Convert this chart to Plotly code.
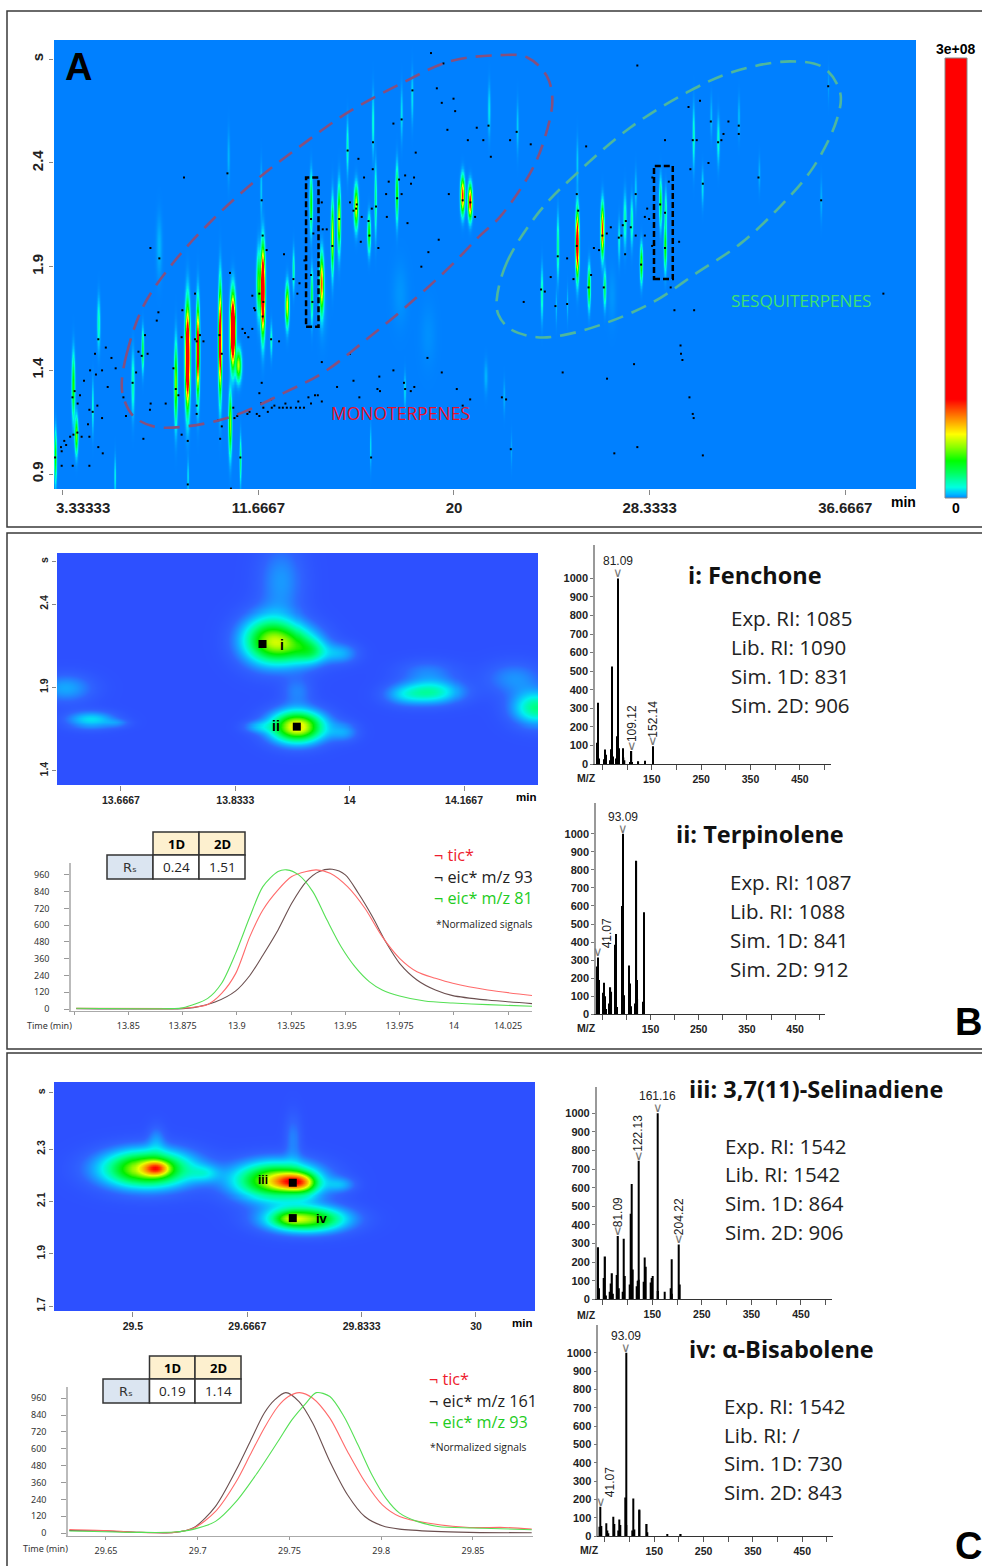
import numpy as np
import plotly.graph_objects as go

W, H = 982, 1566

# ---------- Panel A : peaks of the 2D chromatogram (time min, 2nd dim s, height as fraction of 3e8, widths)
a_t = [8.64,9.08,10.03,10.57,10.81,10.46,11.85,11.67,8.14,12.89,13.91,13.94,14.36,14.82,15.10,15.83,16.38,16.66,17.57,20.37,20.69,3.77,3.90,3.01,4.85,4.60,6.31,6.73,10.90,5.55,8.66,13.16,12.21,15.46,16.55,17.77,18.22,21.46,16.45,17.91,7.43,10.39,11.78,
       25.22,26.29,25.72,26.39,24.39,23.71,27.95,28.77,28.97,28.99,27.25,27.54,27.00,27.71,25.22,30.18,31.23,30.56,30.93,32.11,22.67,32.98,35.62,35.93,22.10,21.32,22.41,24.80,24.32,
       17.7,18.9,14.4,26.7]
a_s = [1.466,1.498,1.546,1.595,1.426,1.144,1.788,1.820,1.337,1.715,2.206,1.763,1.820,2.045,2.133,2.190,2.061,2.222,2.254,2.246,2.214,1.321,1.088,0.984,1.627,1.225,1.337,1.498,0.968,0.887,0.887,1.884,1.546,2.479,2.592,2.640,2.720,2.656,1.032,1.305,1.997,2.431,2.270,
       2.013,2.077,1.804,1.796,1.997,1.772,1.916,2.206,1.997,2.174,2.125,2.117,2.029,2.270,2.399,2.527,2.511,2.286,2.624,2.624,2.576,2.350,2.222,2.777,1.273,1.370,1.016,1.723,1.707,
       1.77,1.57,1.70,1.76]
a_h = [0.45,0.30,0.33,0.50,0.13,0.12,0.45,0.10,0.12,0.15,0.09,0.07,0.20,0.14,0.14,0.15,0.09,0.05,0.09,0.22,0.24,0.09,0.11,0.09,0.035,0.03,0.04,0.07,0.05,0.025,0.02,0.04,0.03,0.035,0.03,0.02,0.02,0.02,0.02,0.02,0.01,0.01,0.015,
       0.35,0.22,0.10,0.06,0.05,0.04,0.10,0.08,0.09,0.04,0.04,0.04,0.025,0.015,0.015,0.035,0.03,0.02,0.012,0.012,0.015,0.01,0.01,0.006,0.01,0.01,0.008,0.012,0.012,
       0.004,0.003,0.006,0.004]
a_wt = [.078,.057,.057,.085,.10,.057,.071,.071,.057,.064,.05,.043,.071,.05,.057,.071,.057,.043,.05,.071,.071,.057,.057,.043,.057,.035,.057,.043,.035,.035,.035,.043,.043,.043,.043,.043,.043,.05,.03,.04,.11,.05,.04,
        .057,.057,.05,.05,.043,.043,.05,.05,.05,.043,.057,.05,.043,.043,.043,.043,.05,.043,.043,.043,.043,.04,.04,.03,.04,.07,.03,.03,.03,
        .30,.30,.16,.16]
a_ws = [.135,.125,.145,.095,.045,.090,.115,.090,.115,.060,.080,.075,.080,.100,.090,.060,.054,.100,.080,.052,.048,.095,.054,.075,.075,.075,.090,.060,.068,.060,.050,.060,.048,.075,.090,.075,.075,.075,.060,.050,.096,.080,.080,
        .088,.072,.060,.054,.088,.075,.054,.068,.068,.060,.075,.068,.060,.060,.075,.088,.068,.054,.060,.060,.075,.050,.060,.050,.050,.050,.050,.050,.050,
        .10,.10,.10,.09]

dots_t = [3.01,3.29,3.26,3.40,3.29,3.48,3.65,3.76,3.79,3.75,3.84,3.97,4.07,4.24,3.96,4.14,4.41,4.47,4.50,4.47,4.47,4.61,4.71,4.75,4.81,4.85,5.01,4.85,5.04,5.01,5.25,5.17,5.41,5.59,5.92,6.03,6.31,6.46,6.56,6.70,6.84,6.95,6.77,7.07,7.45,7.41,7.34,7.08,7.05,7.72,8.05,8.15,8.26,8.40,8.40,8.43,8.50,8.66,8.66,8.97,9.04,8.97,9.04,9.04,9.18,9.33,10.01,10.11,10.04,10.11,9.97,10.35,10.46,10.50,10.60,10.65,10.77,10.83,10.90,10.99,11.10,11.24,11.41,11.41,11.49,11.53,11.71,11.20,11.29,11.60,11.71,11.71,11.81,11.81,11.85,11.88,11.85,11.78,11.88,12.02,12.07,12.21,12.21,12.24,12.35,12.55,12.56,12.76,12.71,12.82,12.88,13.05,13.27,13.33,13.16,13.42,13.37,13.44,13.63,13.61,13.80,13.91,13.91,13.91,13.97,14.01,14.08,14.20,14.37,14.37,14.37,14.41,14.58,14.82,15.02,15.11,15.47,15.57,15.57,15.72,15.72,15.83,15.86,15.93,15.97,16.03,16.07,16.17,16.36,16.40,16.47,16.50,16.54,16.55,16.68,16.74,16.78,16.82,16.85,17.11,17.14,17.22,17.42,17.42,17.58,17.66,17.77,17.77,17.87,17.92,17.92,18.02,18.17,18.16,18.23,18.30,18.31,18.37,18.61,18.87,18.91,19.02,19.27,19.35,19.48,19.48,19.55,19.72,19.78,19.98,20.05,20.12,20.37,20.37,20.59,20.69,20.70,20.90,20.97,21.25,21.47,21.57,
          27.81,22.67,22.39,23.27,25.63,25.23,25.29,26.32,26.51,26.68,27.02,27.13,27.19,27.32,27.53,27.74,27.74,28.13,28.13,28.23,28.31,28.44,28.45,28.78,28.99,28.99,29.15,28.99,29.59,30.07,29.99,30.48,30.17,30.34,30.60,30.84,30.94,31.25,31.39,31.48,31.69,32.13,32.13,32.97,35.94,35.64,38.29,24.42,24.82,25.23,25.96,26.18,27.29,27.97,24.12,25.09,25.84,25.73,26.38,23.71,23.87,22.97,24.32,24.82,29.23,29.39,30.23,29.65,29.67,29.73,27.67,24.63,26.52,22.04,22.22,30.03,30.17,30.21,22.42,27.81,26.83,30.60]
dots_s = [.98,1.01,1.03,1.06,.94,1.04,1.08,.94,1.09,1.27,1.30,1.24,1.28,1.35,1.10,1.08,1.14,1.21,1.40,1.08,.94,1.20,1.48,1.38,1.23,1.55,1.17,1.03,1.00,1.40,1.32,1.51,1.46,1.41,1.27,1.18,1.34,1.39,1.49,1.47,1.57,1.48,1.07,1.99,1.94,1.68,1.64,1.24,1.21,1.24,1.41,1.31,1.28,1.09,1.56,1.69,2.33,1.06,.85,1.55,1.54,1.77,1.23,1.19,1.57,1.54,1.57,1.48,1.07,1.13,1.16,2.35,1.87,.83,1.22,1.17,1.18,1.19,.98,1.60,1.58,1.56,1.60,1.76,1.70,1.69,1.77,1.19,1.20,1.19,1.18,1.29,1.34,2.22,2.05,1.73,1.66,1.24,1.22,1.98,1.20,1.55,1.26,1.22,1.23,1.54,1.22,1.96,1.22,1.24,1.22,1.22,1.22,1.77,1.84,1.82,1.25,1.22,1.93,1.22,1.27,1.24,2.13,1.86,1.73,2.06,1.28,1.28,2.21,1.25,1.44,2.08,2.08,2.00,1.32,2.13,2.46,2.21,1.48,1.35,2.17,2.18,2.20,2.42,1.27,2.02,2.14,2.33,2.12,2.05,.98,2.18,2.37,2.50,2.19,1.31,1.99,1.37,1.30,2.25,2.14,2.31,2.59,1.40,2.23,2.32,2.61,2.25,1.34,1.31,2.34,2.11,2.30,1.30,2.75,2.33,1.32,2.45,1.90,1.46,1.97,2.93,2.76,2.03,2.69,1.39,2.88,2.56,2.25,2.71,2.65,1.31,2.22,1.23,2.51,1.26,2.21,2.14,2.57,2.51,2.58,2.43,
          2.87,2.55,2.51,2.49,2.48,2.25,2.17,2.05,2.06,2.09,2.04,2.05,2.10,2.12,2.09,2.25,2.05,2.14,2.05,2.18,2.13,2.00,2.33,2.20,2.16,2.51,2.31,1.99,2.02,2.37,2.67,2.70,2.51,2.51,2.30,2.40,2.60,2.50,2.51,2.54,2.60,2.58,2.54,2.33,2.77,2.22,1.77,1.95,1.94,2.00,1.99,1.98,1.96,1.91,1.85,1.84,1.86,1.80,1.80,1.79,1.78,1.73,1.71,1.72,1.80,1.69,1.69,1.52,1.48,1.45,1.43,1.39,1.36,1.27,1.26,1.27,1.19,1.17,1.02,1.03,1.00,.99]

mono_t = [5.85,6.06,6.77,8.05,9.75,11.60,13.44,15.43,17.70,19.83,21.96,23.10,23.95,24.19,23.81,23.24,21.96,21.11,19.83,17.99,16.28,14.44,12.73,10.60,8.62,7.20,6.34,5.92,5.85]
mono_s = [1.34,1.48,1.71,1.92,2.13,2.32,2.48,2.64,2.78,2.89,2.92,2.91,2.82,2.70,2.50,2.35,2.14,2.05,1.90,1.71,1.55,1.39,1.29,1.18,1.13,1.13,1.18,1.27,1.34]
sesq_t = [21.82,22.25,23.67,25.23,27.50,29.92,31.90,34.32,35.74,36.45,36.31,35.31,33.89,32.19,30.34,28.50,26.51,24.66,23.53,22.39,21.89,21.82]
sesq_s = [1.74,1.92,2.17,2.35,2.57,2.74,2.84,2.89,2.86,2.74,2.61,2.38,2.19,2.01,1.87,1.73,1.63,1.57,1.56,1.60,1.67,1.74]

# ---------- Panel B / C : blobs
b_t = [13.880,13.920,13.945,13.900,13.986,13.923,13.865,13.991,13.923,13.586,13.623,13.662,14.120,14.078,14.113,14.272,14.239]
b_s = [2.185,2.155,2.115,2.536,2.106,1.666,1.666,1.636,1.876,1.896,1.706,1.686,1.872,1.856,1.996,1.776,1.956]
b_h = [.50,.34,.18,.13,.15,.72,.12,.13,.10,.15,.22,.08,.30,.13,.10,.35,.12]
b_wt = [.028,.028,.015,.023,.018,.027,.015,.015,.015,.028,.025,.013,.030,.022,.030,.025,.030]
b_ws = [.100,.085,.050,.160,.044,.065,.024,.040,.060,.060,.035,.016,.050,.045,.050,.070,.070]
c_t = [29.520,29.533,29.604,29.533,29.708,29.733,29.750,29.802,29.733,29.752,29.726]
c_s = [2.225,2.227,2.208,2.342,2.180,2.176,2.164,2.164,2.342,2.034,2.036]
c_h = [.68,.35,.13,.10,.66,.40,.20,.13,.10,.60,.15]
c_wt = [.045,.012,.015,.009,.042,.018,.014,.015,.008,.040,.015]
c_ws = [.050,.018,.023,.038,.050,.022,.030,.020,.064,.034,.020]
b_mark_t, b_mark_s = [13.873,13.923], [2.16,1.664]
c_mark_t, c_mark_s = [29.733,29.733], [2.171,2.036]

# ---------- elution profiles
bg_t = [13.826,13.870,13.875,13.8866,13.893,13.8995,13.906,13.912,13.919,13.923,13.9285,13.935,13.9415,13.948,13.9544,13.961,13.967,13.975,13.9866,13.9995,14.0156,14.0366]
bg_v = [5,3,8,76,184,400,660,876,984,996,960,840,638,447,303,196,136,93,57,43,31,19]
br_t = [13.826,13.870,13.875,13.880,13.8866,13.893,13.8995,13.906,13.912,13.919,13.9253,13.932,13.9366,13.943,13.951,13.959,13.967,13.975,13.983,13.9915,13.9995,14.0156,14.0366]
br_v = [5,3,5,12,33,112,255,518,709,853,948,984,996,972,876,721,518,363,267,220,184,136,96]
bk_t = [13.826,13.875,13.880,13.890,13.8995,13.906,13.912,13.919,13.9253,13.932,13.938,13.944,13.950,13.956,13.9625,13.969,13.975,13.983,13.9915,13.9995,14.0156,14.0366]
bk_v = [3,3,10,50,130,240,385,566,757,912,984,1000,960,828,660,470,327,208,136,96,64,38]
cg_t = [29.630,29.668,29.687,29.698,29.7097,29.721,29.7324,29.7437,29.7513,29.7589,29.7646,29.772,29.7797,29.7873,29.7949,29.8025,29.810,29.8195,29.8309,29.850,29.882]
cg_v = [15,5,7,28,83,225,427,652,806,924,1000,972,830,628,415,249,142,83,47,36,24]
cr_t = [29.630,29.650,29.668,29.687,29.698,29.7097,29.721,29.7286,29.7362,29.7437,29.7494,29.7555,29.7627,29.772,29.7816,29.791,29.8006,29.810,29.8252,29.848,29.867,29.882]
cr_v = [25,18,5,5,36,154,367,557,747,901,972,1000,960,818,581,367,201,118,71,40,40,28]
ck_t = [29.630,29.650,29.668,29.687,29.698,29.7097,29.721,29.7286,29.7362,29.7419,29.748,29.7552,29.7627,29.772,29.7816,29.791,29.8006,29.810,29.829,29.848,29.882]
ck_v = [18,15,5,4,40,190,450,652,853,948,1000,936,782,510,273,118,52,28,12,5,2]

# ---------- mass spectra
s1_mz = [39,41,43,53,55,57,65,67,69,71,77,79,81,83,84,91,93,95,107,109,110,123,137,152]
s1_i  = [115,330,30,25,78,50,20,80,525,40,30,150,1000,85,40,85,35,20,10,70,10,15,18,95]
s2_mz = [39,41,43,51,53,55,57,65,67,69,77,79,81,91,92,93,95,105,107,109,119,121,122,123,134,136,137]
s2_i  = [265,315,190,120,175,100,30,60,150,125,385,445,40,30,600,1000,105,270,170,45,60,850,190,85,70,565,90]
s3_mz = [39,41,43,53,55,57,65,67,69,71,79,81,83,91,93,95,105,107,109,110,119,121,122,123,133,135,136,147,149,150,161,162,175,187,189,190,204,205]
s3_i  = [85,280,60,115,230,20,40,85,140,30,130,340,60,40,325,125,80,460,620,160,70,100,745,105,95,225,175,90,115,125,1000,45,40,60,215,30,295,80]
s4_mz = [39,41,43,53,55,57,67,69,77,79,81,91,93,94,105,107,109,119,120,135,136,177,204]
s4_i  = [50,160,55,70,30,15,105,65,30,90,60,210,1000,60,30,205,35,145,140,65,20,8,8]

rs_b = ["0.24", "1.51"]
rs_c = ["0.19", "1.14"]
cbar_vals = [0, 3e6, 6e6, 1.2e7, 1.8e7, 2.5e7, 3.5e7, 4.4e7, 5.5e7, 6.8e7, 1e8, 2e8, 3e8]

BG_A = "#0080ff"
BG_B = "#2d50ff"
scale_a = [[0,BG_A],[.012,"#00c0ff"],[.025,"#00ffe0"],[.05,"#00ff80"],[.085,"#00ff00"],[.145,"#ffff00"],[.225,"#ff0000"],[1,"#ff0000"]]
scale_b = [[0,BG_B],[.06,"#2f62ff"],[.16,"#10b0ff"],[.24,"#00f0f0"],[.34,"#00ff90"],[.5,"#00ee00"],[.68,"#e8ff00"],[.85,"#ff8000"],[1,"#ff0000"]]


def xd(l, r):
    return [l / W, r / W]


def yd(t, b):
    return [1 - b / H, 1 - t / H]


def field(xr, yr, nx, ny, t, s, h, wt, ws):
    x = np.linspace(xr[0], xr[1], nx)
    y = np.linspace(yr[0], yr[1], ny)
    X, Y = np.meshgrid(x, y)
    Z = np.zeros_like(X)
    for a, b, c, d, e in zip(t, s, h, wt, ws):
        Z += c * np.exp(-((X - a) / d) ** 2 / 2 - ((Y - b) / e) ** 2 / 2)
    return x, y, Z


fig = go.Figure()
annots, shapes = [], []


def text(px, py, s, size=12, color="black", fam="Liberation Sans", bold=False, xa="left", ya="middle", angle=0):
    annots.append(dict(x=px / W, y=1 - py / H, xref="paper", yref="paper", text=("<b>%s</b>" % s) if bold else s,
                       showarrow=False, xanchor=xa, yanchor=ya, textangle=angle,
                       font=dict(size=size, color=color, family=fam), borderpad=0, align="left"))


def rect(l, t, r, b, line="#3a3a3a", lw=1.5, fill=None):
    shapes.append(dict(type="rect", xref="paper", yref="paper", x0=l / W, x1=r / W, y0=1 - t / H, y1=1 - b / H,
                       line=dict(color=line, width=lw), fillcolor=fill, layer="above"))


layout = dict(width=W, height=H, margin=dict(l=0, r=0, t=0, b=0, autoexpand=False), paper_bgcolor="white", plot_bgcolor="white",
              showlegend=False)
TICK = dict(family="Liberation Sans", color="#222")


def heat_axes(n, dx, dy, xr, yr, xv, xt, yv, yt, size):
    layout["xaxis%d" % n] = dict(domain=dx, range=xr, anchor="y%d" % n, tickvals=xv, ticktext=xt, ticks="outside", ticklen=5,
                                 tickcolor="#888", showgrid=False, zeroline=False, showline=False,
                                 tickfont=dict(size=size, weight="bold", **TICK))
    layout["yaxis%d" % n] = dict(domain=dy, range=yr, anchor="x%d" % n, tickvals=yv, ticktext=yt, ticks="outside", ticklen=4,
                                 tickcolor="#888", tickangle=-90, showgrid=False, zeroline=False, showline=False,
                                 tickfont=dict(size=size, weight="bold", **TICK))


# ---- Panel A
rA = ([2.963, 39.68], [0.828, 2.993])
x, y, Z = field(rA[0], rA[1], 862, 300, a_t, a_s, a_h, [w * 0.75 for w in a_wt], a_ws)
fig.add_trace(go.Heatmap(x=x, y=y, z=Z * 3e8, zmin=0, zmax=3e8, colorscale=scale_a, zsmooth="best", showscale=False, xaxis="x1", yaxis="y1"))
heat_axes(1, xd(54, 916), yd(40, 489), rA[0], rA[1], [11.6667, 20, 28.3333, 36.6667],
          ["11.6667", "20", "28.3333", "36.6667"], [0.9, 1.4, 1.9, 2.4, 2.9], ["0.9", "1.4", "1.9", "2.4", "s"], 15)
layout["xaxis1"]["minor"] = dict(tickmode="array", tickvals=[3.33333], ticks="outside", ticklen=5, tickcolor="#888", showgrid=False)
text(83, 508, "3.33333", 15, "#222", bold=True, xa="center")
fig.add_trace(go.Scatter(x=dots_t, y=dots_s, mode="markers", marker=dict(size=2, color="black", symbol="square"), xaxis="x1", yaxis="y1"))
fig.add_trace(go.Scatter(x=mono_t, y=mono_s, mode="lines", line=dict(color="#85507f", width=2.6, dash="16px,9px", shape="spline"), xaxis="x1", yaxis="y1"))
fig.add_trace(go.Scatter(x=sesq_t, y=sesq_s, mode="lines", line=dict(color="#4fb79c", width=2.6, dash="16px,9px", shape="spline"), xaxis="x1", yaxis="y1"))
for x0, x1, y0, y1 in [(13.70, 14.23, 1.61, 2.33), (28.52, 29.32, 1.84, 2.386)]:
    shapes.append(dict(type="rect", xref="x1", yref="y1", x0=x0, x1=x1, y0=y0, y1=y1, line=dict(color="black", width=2.5, dash="6px,3px")))
text(64, 67, "A", 38, bold=True)
text(330, 413, "MONOTERPENES", 17.5, "#e8102a", "Open Sans")
text(730, 300, "SESQUITERPENES", 17.2, "#3fe070", "Open Sans")
text(956, 49, "3e+08", 14, bold=True, xa="center")
text(956, 508, "0", 14, bold=True, xa="center")
text(903, 502, "min", 14, bold=True, xa="center")

# colour bar as its own small axis
fig.add_trace(go.Heatmap(x=[0, 1], y=cbar_vals, z=[[v, v] for v in cbar_vals], zmin=0, zmax=3e8, colorscale=scale_a, zsmooth="best",
                         showscale=False, xaxis="x10", yaxis="y10"))
layout["xaxis10"] = dict(domain=xd(945, 967), range=[0, 1], anchor="y10", visible=False)
layout["yaxis10"] = dict(domain=yd(58, 498), range=[0, 3e8], anchor="x10", visible=False)
rect(945, 58, 967, 498, line="#888", lw=1)

# ---- Panel B heat
rB = ([13.5735, 14.2745], [1.314, 2.706])
x, y, Z = field(rB[0], rB[1], 240, 116, b_t, b_s, b_h, b_wt, b_ws)
fig.add_trace(go.Heatmap(x=x, y=y, z=Z, zmin=0, zmax=1, colorscale=scale_b, zsmooth="best", showscale=False, xaxis="x2", yaxis="y2"))
heat_axes(2, xd(57, 538), yd(553, 785), rB[0], rB[1], [13.6667, 13.8333, 14, 14.1667], ["13.6667", "13.8333", "14", "14.1667"],
          [1.4, 1.9, 2.4, 2.654], ["1.4", "1.9", "2.4", "s"], 10.5)
fig.add_trace(go.Scatter(x=b_mark_t, y=b_mark_s, mode="markers", marker=dict(size=8, color="black", symbol="square"), xaxis="x2", yaxis="y2"))
text(282, 645, "i", 14, bold=True, xa="center")
text(276, 726, "ii", 14, bold=True, xa="center")
text(526, 797, "min", 11.5, bold=True, xa="center")

# ---- Panel C heat
rC = ([29.385, 30.086], [1.681, 2.556])
x, y, Z = field(rC[0], rC[1], 240, 114, c_t, c_s, c_h, c_wt, c_ws)
fig.add_trace(go.Heatmap(x=x, y=y, z=Z, zmin=0, zmax=1, colorscale=scale_b, zsmooth="best", showscale=False, xaxis="x3", yaxis="y3"))
heat_axes(3, xd(54, 535), yd(1082, 1311), rC[0], rC[1], [29.5, 29.6667, 29.8333, 30], ["29.5", "29.6667", "29.8333", "30"],
          [1.7, 1.9, 2.1, 2.3, 2.514], ["1.7", "1.9", "2.1", "2.3", "s"], 10.5)
fig.add_trace(go.Scatter(x=c_mark_t, y=c_mark_s, mode="markers", marker=dict(size=8, color="black", symbol="square"), xaxis="x3", yaxis="y3"))
text(263, 1180, "iii", 12, bold=True, xa="center")
text(322, 1218, "iv", 13, bold=True, xa="center")
text(522, 1323, "min", 11.5, bold=True, xa="center")


# ---- elution profiles
def line_axes(n, dx, dy, xr, yr, xv, xt):
    f = dict(size=9, color="#333", family="Noto Sans")
    layout["xaxis%d" % n] = dict(domain=dx, range=xr, anchor="y%d" % n, tickvals=xv, ticktext=xt, ticks="outside", ticklen=3,
                                 tickcolor="#999", showgrid=False, zeroline=False, showline=True, linecolor="#aaa", linewidth=1, tickfont=f,
                                 ticklabelstandoff=3)
    layout["yaxis%d" % n] = dict(domain=dy, range=yr, anchor="x%d" % n, tickvals=list(range(0, 961, 120)), ticks="outside", ticklen=5,
                                 tickcolor="#999", showgrid=False, zeroline=False, showline=True, linecolor="#bbb", linewidth=1.5, tickfont=f,
                                 ticklabelstandoff=13)


RED, GRN, BRN = "#ff6a6a", "#55e055", "#6b4f4f"
for t, v, c in [(bk_t, bk_v, BRN), (br_t, br_v, RED), (bg_t, bg_v, GRN)]:
    fig.add_trace(go.Scatter(x=t, y=v, mode="lines", line=dict(color=c, width=1.1, shape="spline", smoothing=0.8), xaxis="x4", yaxis="y4"))
line_axes(4, xd(71, 532), yd(863, 1011), [13.8236, 14.036], [-14.3, 1045],
          [13.85, 13.875, 13.9, 13.925, 13.95, 13.975, 14, 14.025], ["13.85", "13.875", "13.9", "13.925", "13.95", "13.975", "14", "14.025"])
layout["xaxis4"]["minor"] = dict(tickmode="array", tickvals=[13.825], ticks="outside", ticklen=3, tickcolor="#999", showgrid=False)
text(26, 1025, "Time (min)", 9, "#333", "Noto Sans")
for t, v, c in [(ck_t, ck_v, BRN), (cr_t, cr_v, RED), (cg_t, cg_v, GRN)]:
    fig.add_trace(go.Scatter(x=t, y=v, mode="lines", line=dict(color=c, width=1.1, shape="spline", smoothing=0.8), xaxis="x5", yaxis="y5"))
line_axes(5, xd(68, 533), yd(1387, 1536), [29.6293, 29.8827], [-21, 1040],
          [29.65, 29.7, 29.75, 29.8, 29.85], ["29.65", "29.7", "29.75", "29.8", "29.85"])
text(22, 1548, "Time (min)", 9, "#333", "Noto Sans")


# ---- tables
def table(l, m1, m2, r, t, m, b, vals):
    rect(m1, t, m2, m, fill="#fdf0cf", line="#333", lw=1.5)
    rect(m2, t, r, m, fill="#fdf0cf", line="#333", lw=1.5)
    rect(l, m, m1, b, fill="#dbe5f1", line="#333", lw=1.5)
    rect(m1, m, m2, b, fill="white", line="#333", lw=1.5)
    rect(m2, m, r, b, fill="white", line="#333", lw=1.5)
    text((m1 + m2) / 2, (t + m) / 2, "1D", 13, fam="Open Sans", bold=True, xa="center")
    text((m2 + r) / 2, (t + m) / 2, "2D", 13, fam="Open Sans", bold=True, xa="center")
    text((l + m1) / 2, (m + b) / 2, "Rₛ", 13, "#333", "DejaVu Sans", xa="center")
    text((m1 + m2) / 2, (m + b) / 2, vals[0], 13.5, "#222", "Open Sans", xa="center")
    text((m2 + r) / 2, (m + b) / 2, vals[1], 13.5, "#222", "Open Sans", xa="center")


table(107, 153, 199, 245, 832, 855, 879, rs_b)
table(103, 149.5, 195, 241, 1356, 1379, 1403, rs_c)

FT = "Open Sans"
text(433, 855, "¬ tic*", 16.2, "#ee1c2e", FT)
text(433, 877, "¬ eic* m/z 93", 16.2, "#222", FT)
text(433, 898, "¬ eic* m/z 81", 16.2, "#22cc22", FT)
text(435, 924, "*Normalized signals", 10.3, "#222", FT)
text(428, 1379, "¬ tic*", 16.2, "#ee1c2e", FT)
text(428, 1401, "¬ eic* m/z 161", 16.2, "#222", FT)
text(428, 1422, "¬ eic* m/z 93", 16.2, "#22cc22", FT)
text(429, 1447, "*Normalized signals", 10.3, "#222", FT)


# ---- spectra
def spectrum(n, dx, dy, xr, ytop, mz, inten, labels):
    fig.add_trace(go.Bar(x=mz, y=inten, width=2.6, marker=dict(color="black", line=dict(width=0)), xaxis="x%d" % n, yaxis="y%d" % n))
    layout["xaxis%d" % n] = dict(domain=dx, range=xr, anchor="y%d" % n, tickvals=[150, 250, 350, 450], ticktext=["150", "250", "350", "450"],
                                 ticks="outside", ticklen=5, tickcolor="#555", showgrid=False, zeroline=False, showline=True, linecolor="#333", linewidth=1,
                                 tickfont=dict(size=10.5, weight="bold", **TICK),
                                 minor=dict(tickmode="array", tickvals=[50, 100, 200, 300, 400, 500], ticks="outside", ticklen=5, tickcolor="#555", showgrid=False))
    layout["yaxis%d" % n] = dict(domain=dy, range=[0, ytop], anchor="x%d" % n, tickvals=list(range(0, 1001, 100)), ticks="outside", ticklen=3,
                                 tickcolor="#777", showgrid=False, zeroline=False, showline=True, linecolor="#999", linewidth=1.5,
                                 tickfont=dict(size=11, weight="bold", **TICK))
    for m, i, s, rot, dx_ in labels:
        annots.append(dict(x=m, y=i, xref="x%d" % n, yref="y%d" % n, text="∨", showarrow=False, yanchor="bottom", xanchor="center",
                           yshift=-4, font=dict(size=13, color="#777", family="DejaVu Sans")))
        annots.append(dict(x=m, y=i, xref="x%d" % n, yref="y%d" % n, text=s, showarrow=False, yanchor="bottom", xanchor="center", yshift=8 if not rot else 7,
                           xshift=dx_, textangle=-90 if rot else 0, font=dict(size=12, color="#222", family="Liberation Sans")))


spectrum(6, xd(595, 831), yd(545, 764), [35, 513], 1180, s1_mz, s1_i,
         [(81.09, 1000, "81.09", False, 0), (109.12, 70, "109.12", True, 0), (152.14, 95, "152.14", True, 0)])
spectrum(7, xd(596, 825), yd(803, 1014.3), [37, 512], 1170, s2_mz, s2_i,
         [(93.09, 1000, "93.09", False, 0), (41.07, 315, "41.07", True, 9)])
spectrum(8, xd(596.7, 831.7), yd(1086.7, 1299.3), [37.7, 512], 1143, s3_mz, s3_i,
         [(161.16, 1000, "161.16", False, 0), (122.13, 745, "122.13", True, 0), (81.09, 340, "81.09", True, 0), (204.22, 295, "204.22", True, 0)])
spectrum(9, xd(598.3, 833.3), yd(1325, 1536), [36.5, 513], 1151, s4_mz, s4_i,
         [(93.09, 1000, "93.09", False, 0), (41.07, 160, "41.07", True, 9)])
for px, py in [(586, 778), (586, 1028), (586, 1315), (589, 1550)]:
    text(px, py, "M/Z", 10.5, "#222", bold=True, xa="center")


# ---- text blocks
def info(py_title, title_x, title, rows_x, rows_y, rows):
    text(title_x, py_title, title, 23.5, "#111", FT, bold=True)
    for yy, r in zip(rows_y, rows):
        text(rows_x, yy, r, 20.5, "#222", FT)


info(575, 687, "i: Fenchone", 730, [618, 647, 676, 705], ["Exp. RI: 1085", "Lib. RI: 1090", "Sim. 1D: 831", "Sim. 2D: 906"])
info(834, 675, "ii: Terpinolene", 729, [882, 911, 940, 969], ["Exp. RI: 1087", "Lib. RI: 1088", "Sim. 1D: 841", "Sim. 2D: 912"])
info(1089, 688, "iii: 3,7(11)-Selinadiene", 724, [1146, 1174, 1203, 1232], ["Exp. RI: 1542", "Lib. RI: 1542", "Sim. 1D: 864", "Sim. 2D: 906"])
info(1349, 688, "iv: α-Bisabolene", 723, [1406, 1435, 1463, 1492], ["Exp. RI: 1542", "Lib. RI: /", "Sim. 1D: 730", "Sim. 2D: 843"])
text(968, 1022, "B", 38, bold=True, xa="center")
text(968, 1546, "C", 38, bold=True, xa="center")

# ---- frames
rect(7, 11, 990, 527)
rect(7, 533, 990, 1049)
rect(7, 1053, 990, 1575)

layout["annotations"] = annots
layout["shapes"] = shapes
fig.update_layout(**layout)
fig.write_html("out.html", post_script="document.body.style.margin='0';", config={"displayModeBar": False})
